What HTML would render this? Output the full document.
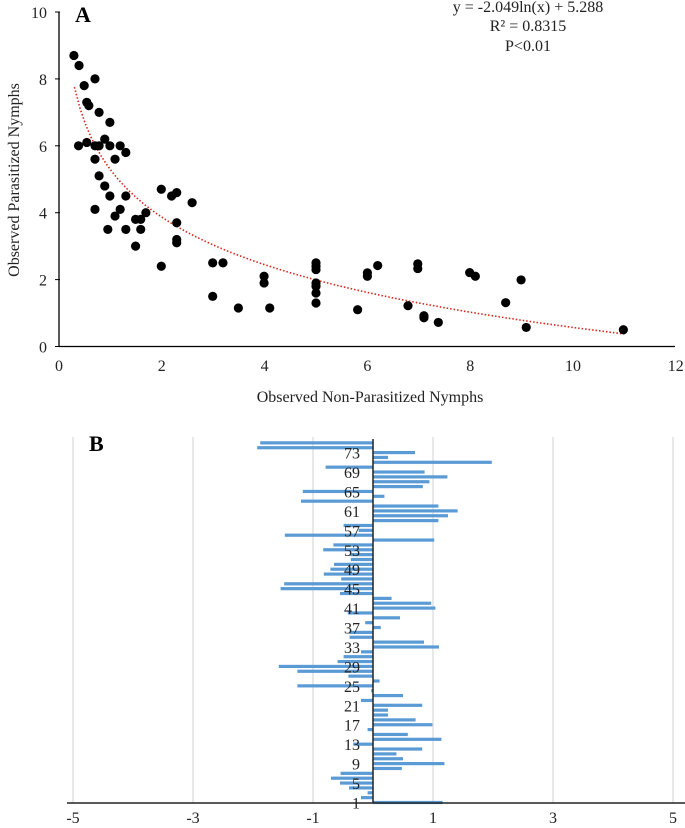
<!DOCTYPE html>
<html><head><meta charset="utf-8"><style>
html,body{margin:0;padding:0;background:#fff}
svg{display:block;font-family:"Liberation Serif",serif}
</style></head><body>
<svg id="chart" width="685" height="828" viewBox="0 0 685 828">
<g id="pa"></g>
<g id="pb"></g>
</svg>
<script>
// Panel A data
const scatterX = [0.29,0.39,0.49,0.70,0.54,0.58,0.78,0.99,0.38,0.54,0.70,0.78,0.89,0.99,1.19,1.30,1.09,0.70,0.78,0.89,0.99,1.30,0.70,1.19,1.09,1.69,1.49,1.59,0.95,1.30,1.59,1.49,1.99,2.19,2.29,2.59,2.29,2.29,2.29,1.99,2.99,3.19,2.99,3.49,3.99,3.99,4.1,5,5,5,5,5,5,5,6.0,6.0,6.2,5.81,6.79,6.98,6.98,7.1,7.1,7.38,7.99,8.1,8.99,8.69,9.09,10.98];
const scatterY = [8.7,8.4,7.8,8.0,7.3,7.2,7.0,6.7,6.0,6.1,6.0,6.0,6.2,6.0,6.0,5.8,5.6,5.6,5.1,4.8,4.5,4.5,4.1,4.1,3.9,4.0,3.8,3.8,3.5,3.5,3.5,3.0,4.7,4.5,4.6,4.3,3.7,3.2,3.1,2.4,2.5,2.5,1.5,1.15,2.1,1.9,1.15,2.5,2.4,2.3,1.9,1.8,1.6,1.3,2.2,2.1,2.42,1.1,1.22,2.47,2.33,0.92,0.86,0.72,2.21,2.1,1.99,1.31,0.57,0.5];
const trendA = -2.049, trendB = 5.288;
const xTicksA = [0,2,4,6,8,10,12];
const yTicksA = [0,2,4,6,8,10];
// Panel B data
const barCats = Array.from({length:75},(_,i)=>i+1);
const barVals = [1.16,-0.2,-0.09,-0.4,-0.55,-0.7,-0.54,0.48,1.19,0.5,0.39,0.82,-0.33,1.14,0.58,-0.09,0.99,0.71,0.25,0.25,0.82,-0.2,0.5,-0.03,-1.26,0.11,-0.41,-1.26,-1.57,-0.59,-0.49,-0.2,1.1,0.85,-0.39,-0.39,0.13,-0.13,0.45,-0.42,1.04,0.97,0.31,-0.55,-1.54,-1.48,-0.53,-0.82,-0.71,-0.65,-0.37,-0.38,-0.83,-0.66,1.02,-1.47,-0.24,-0.49,1.09,1.25,1.41,1.09,-1.2,0.19,-1.17,0.83,0.94,1.24,0.86,-0.79,1.98,0.25,0.7,-1.93,-1.88];
const xTicksB = [-5,-3,-1,1,3,5];
const catLabelsB = [1,5,9,13,17,21,25,29,33,37,41,45,49,53,57,61,65,69,73];

const NS='http://www.w3.org/2000/svg';
function mk(parent,tag,attrs,text){const e=document.createElementNS(NS,tag);for(const k in attrs)e.setAttribute(k,attrs[k]);if(text!==undefined)e.textContent=text;parent.appendChild(e);return e;}

// Panel A
const pa=document.getElementById('pa');
const ax=v=>59+v*51.4, ay=v=>346.5-v*33.45;
let e;
e=mk(pa,'line',{x1:ax(0),y1:ay(0),x2:675,y2:ay(0),stroke:'#000','stroke-width':1.3});


e=mk(pa,'line',{x1:ax(0),y1:ay(10),x2:ax(0),y2:ay(0),stroke:'#000','stroke-width':1.3});


xTicksA.forEach(t=>{e=mk(pa,'text',{x:ax(t),y:371,'text-anchor':'middle','font-size':16,fill:'#222'},String(t));

});
yTicksA.forEach(t=>{e=mk(pa,'text',{x:47,y:ay(t)+6,'text-anchor':'end','font-size':16,fill:'#222'},String(t));


e=mk(pa,'line',{x1:55,y1:ay(t),x2:60,y2:ay(t),stroke:'#000'});

});
let d='';for(let i=0;i<=100;i++){const x=0.3+(11-0.3)*i/100;const y=trendA*Math.log(x)+trendB;d+=(i?'L':'M')+ax(x).toFixed(1)+' '+ay(y).toFixed(1);}
e=mk(pa,'path',{d:d,fill:'none',stroke:'#d9261c','stroke-width':1.6,'stroke-dasharray':'1.5 2'});


scatterX.forEach((x,i)=>{e=mk(pa,'circle',{cx:ax(x),cy:ay(scatterY[i]),r:4.6,fill:'#000'});

});
e=mk(pa,'text',{x:75,y:22,'font-size':22,'font-weight':'bold'},'A');


[['y = -2.049ln(x) + 5.288',12],['R² = 0.8315',31],['P<0.01',51]].forEach(([t,y])=>{e=mk(pa,'text',{x:528,y:y,'text-anchor':'middle','font-size':16,fill:'#222'},t);

});
e=mk(pa,'text',{x:370,y:402,'text-anchor':'middle','font-size':16,fill:'#222'},'Observed Non-Parasitized Nymphs');


e=mk(pa,'text',{x:0,y:0,'text-anchor':'middle','font-size':16,fill:'#222',transform:'translate(19,180) rotate(-90)'},'Observed Parasitized Nymphs');



// Panel B
const pb=document.getElementById('pb');
const bx=v=>373+v*60, by=c=>802.5-(c-1)*4.86;
xTicksB.forEach(t=>{e=mk(pb,'line',{x1:bx(t),y1:437,x2:bx(t),y2:803,stroke:'#d9d9d9','stroke-width':1.2});


e=mk(pb,'text',{x:bx(t),y:823,'text-anchor':'middle','font-size':16,fill:'#222'},String(t));

});
barCats.forEach((c,i)=>{const v=barVals[i];e=mk(pb,'rect',{x:Math.min(bx(0),bx(v)),y:by(c)-1.6,width:Math.abs(bx(v)-bx(0)),height:3.2,fill:'#5b9bd5'});

});
catLabelsB.forEach(c=>{e=mk(pb,'text',{x:360,y:by(c)+6,'text-anchor':'end','font-size':16,fill:'#222'},String(c));

});
e=mk(pb,'line',{x1:bx(0),y1:439,x2:bx(0),y2:803,stroke:'#222','stroke-width':1.5});


e=mk(pb,'line',{x1:67,y1:803,x2:685,y2:803,stroke:'#222','stroke-width':1.5});


e=mk(pb,'text',{x:89,y:451,'font-size':22,'font-weight':'bold'},'B');


</script>
</body></html>
